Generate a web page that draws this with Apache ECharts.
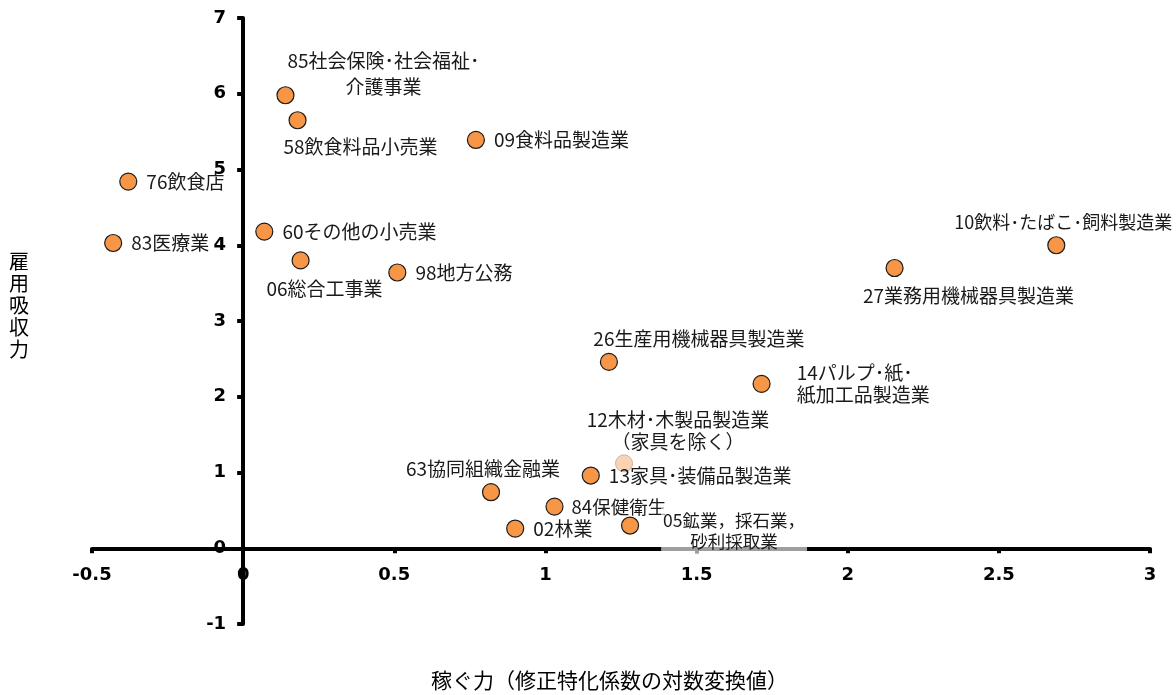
<!DOCTYPE html>
<html>
<head>
<meta charset="utf-8">
<script src="https://cdn.jsdelivr.net/npm/echarts@6/dist/echarts.min.js"></script>
<style>
html,body{margin:0;padding:0;background:#fff;}
#chart{width:1176px;height:695px;}
</style>
</head>
<body>
<div id="chart"></div>
<script>
// ---- data ----
const industries = [
  '85社会保険･社会福祉･\n介護事業',
  '58飲食料品小売業',
  '09食料品製造業',
  '76飲食店',
  '83医療業',
  '60その他の小売業',
  '06総合工事業',
  '98地方公務',
  '10飲料･たばこ･飼料製造業',
  '27業務用機械器具製造業',
  '26生産用機械器具製造業',
  '14パルプ･紙･\n紙加工品製造業',
  '12木材･木製品製造業\n（家具を除く）',
  '13家具･装備品製造業',
  '63協同組織金融業',
  '84保健衛生',
  '02林業',
  '05鉱業，採石業，\n砂利採取業'
];
const earningPower = [0.14, 0.18, 0.77, -0.38, -0.43, 0.07, 0.19, 0.51, 2.69, 2.155, 1.21, 1.715, 1.26, 1.15, 0.82, 1.03, 0.90, 1.28];
const employmentPower = [5.98, 5.65, 5.39, 4.84, 4.03, 4.18, 3.80, 3.64, 4.00, 3.70, 2.46, 2.17, 1.12, 0.96, 0.74, 0.55, 0.26, 0.30];
const xTicks = { min: -0.5, max: 3, step: 0.5 };
const yTicks = { min: -1, max: 7, step: 1 };
const xTitle = '稼ぐ力（修正特化係数の対数変換値）';
const yTitle = '雇用吸収力';
const fadedIndustry = '12木材･木製品製造業\n（家具を除く）';

// ---- layout (style) ----
const W = 1176, H = 695;
const G = { left: 92, right: 26, top: 18, bottom: 71 };
const gridW = W - G.left - G.right, gridH = H - G.top - G.bottom;
// shift axes so they cross at the origin (labels move with them)
const yAxisShift = -((0 - xTicks.min) / (xTicks.max - xTicks.min)) * gridW;
const xAxisShift = -((0 - yTicks.min) / (yTicks.max - yTicks.min)) * gridH;

const labelStyle = {
  '85社会保険･社会福祉･\n介護事業': { position: 'inside', offset: [98, -21], align: 'center', lineHeight: 26 },
  '58飲食料品小売業': { position: 'inside', offset: [63, 27], align: 'center' },
  '06総合工事業': { position: 'inside', offset: [24, 28], align: 'center' },
  '10飲料･たばこ･飼料製造業': { position: 'inside', offset: [7, -23], align: 'center', fontSize: 18 },
  '27業務用機械器具製造業': { position: 'inside', offset: [74, 28], align: 'center' },
  '26生産用機械器具製造業': { position: 'inside', offset: [90, -23], align: 'center' },
  '14パルプ･紙･\n紙加工品製造業': { position: 'right', distance: 26 },
  '12木材･木製品製造業\n（家具を除く）': { position: 'inside', offset: [54, -33], align: 'center' },
  '63協同組織金融業': { position: 'inside', offset: [-8, -23], align: 'center' },
  '84保健衛生': { position: 'right', distance: 8, fontSize: 18.5 },
  '05鉱業，採石業，\n砂利採取業': { position: 'inside', offset: [104, 5], align: 'center',
      fontSize: 17.5, lineHeight: 21,
      backgroundColor: 'rgba(255,255,255,0.62)', padding: [0, 2, 3, 2] }
};

const FONT = '"Noto Sans CJK JP", "Noto Sans", sans-serif';
const TICKFONT = '"DejaVu Sans", Verdana, sans-serif';

const seriesData = industries.map((n, i) => {
  const ls = labelStyle[n] || { position: 'right', distance: 9 };
  const item = {
    name: n,
    value: [earningPower[i], employmentPower[i]],
    label: Object.assign({ show: true, formatter: '{b}' }, ls)
  };
  if (n === fadedIndustry) {
    item.itemStyle = { color: '#FBD3B3', borderColor: '#C9B3A3', borderWidth: 1 };
  }
  return item;
});

const chart = echarts.init(document.getElementById('chart'), null, { renderer: 'canvas' });
chart.setOption({
  animation: false,
  backgroundColor: '#ffffff',
  grid: { left: G.left, right: G.right, top: G.top, bottom: G.bottom, containLabel: false },
  xAxis: {
    type: 'value',
    min: xTicks.min, max: xTicks.max, interval: xTicks.step,
    offset: xAxisShift,
    splitLine: { show: false },
    axisLine: { onZero: false, lineStyle: { color: '#000', width: 4 } },
    axisTick: { show: true, inside: false, length: 5, lineStyle: { color: '#000', width: 4 } },
    axisLabel: { margin: 18, color: '#000', fontSize: 18, fontWeight: 'bold', fontFamily: TICKFONT,
      formatter: v => (Math.abs(v) < 1e-9 ? '0' : String(v)) }
  },
  yAxis: {
    type: 'value',
    min: yTicks.min, max: yTicks.max, interval: yTicks.step,
    offset: yAxisShift,
    splitLine: { show: false },
    axisLine: { onZero: false, lineStyle: { color: '#000', width: 4 } },
    axisTick: { show: true, inside: false, length: 6, lineStyle: { color: '#000', width: 4 } },
    axisLabel: { margin: 17, color: '#000', fontSize: 18, fontWeight: 'bold', fontFamily: TICKFONT }
  },
  series: [{
    type: 'scatter',
    symbol: 'circle',
    symbolSize: 17,
    itemStyle: { color: '#F79646', borderColor: '#1a1a1a', borderWidth: 1.2, opacity: 1 },
    label: { color: '#1a1a1a', fontSize: 19, fontFamily: FONT, lineHeight: 22 },
    emphasis: { disabled: true },
    data: seriesData,
    z: 5
  }],
  graphic: [
    { type: 'text', left: 9, top: 250,
      style: { text: yTitle.split('').join('\n'), font: '20px ' + FONT, fill: '#000', lineHeight: 22 } },
    { type: 'text', left: 431, top: 670,
      style: { text: xTitle, font: '21px ' + FONT, fill: '#000' } }
  ]
});
</script>
</body>
</html>
